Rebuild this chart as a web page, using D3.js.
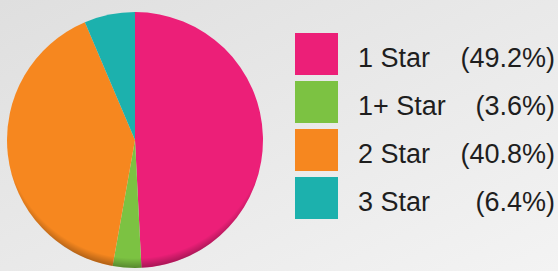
<!DOCTYPE html>
<html>
<head>
<meta charset="utf-8">
<script src="https://cdn.jsdelivr.net/npm/d3@7"></script>
<style>
  html, body { margin: 0; padding: 0; }
  body { width: 558px; height: 271px; overflow: hidden; }
  text { font-family: "Liberation Sans", Arial, sans-serif; }
</style>
</head>
<body>
<script>
const categories = ['1 Star', '1+ Star', '2 Star', '3 Star'];
const shares = [49.2, 3.6, 40.8, 6.4];
const colors = ['#ec1f78', '#7cc242', '#f6871f', '#1cb1ad'];

const width = 558, height = 271;
const pieCenter = { x: 135, y: 140 };
const radius = 128;

const svg = d3.select('body').append('svg')
    .attr('width', width)
    .attr('height', height);

const defs = svg.append('defs');

// background goes from darker grey top-left to lighter bottom-right
const bg = defs.append('linearGradient')
    .attr('id', 'bgGrad')
    .attr('x1', 0).attr('y1', 0).attr('x2', 1).attr('y2', 1);
bg.append('stop').attr('offset', 0).attr('stop-color', '#dfdfdf');
bg.append('stop').attr('offset', 1).attr('stop-color', '#f3f3f3');

// darker rim, stronger towards the bottom
const rim = defs.append('radialGradient')
    .attr('id', 'rimGrad')
    .attr('cx', 0.5).attr('cy', 0.45).attr('r', 0.55);
rim.append('stop').attr('offset', 0.93).attr('stop-color', '#000').attr('stop-opacity', 0);
rim.append('stop').attr('offset', 1).attr('stop-color', '#000').attr('stop-opacity', 0.3);

svg.append('rect')
    .attr('width', width)
    .attr('height', height)
    .attr('fill', 'url(#bgGrad)');

const data = categories.map((c, i) => ({ name: c, value: shares[i], color: colors[i] }));

const pie = d3.pie()
    .sort(null)
    .value(d => d.value);

const arc = d3.arc()
    .innerRadius(0)
    .outerRadius(radius);

const pieG = svg.append('g')
    .attr('transform', 'translate(' + pieCenter.x + ',' + pieCenter.y + ')');

pieG.selectAll('path.slice')
    .data(pie(data))
    .join('path')
    .attr('class', 'slice')
    .attr('d', arc)
    .attr('fill', d => d.data.color);

pieG.append('circle')
    .attr('r', radius)
    .attr('fill', 'url(#rimGrad)');

// legend
const legendX = 295, legendY = 33, rowStep = 48, box = 42;
const yScale = d3.scaleBand()
    .domain(categories)
    .range([legendY, legendY + rowStep * categories.length]);

const rows = svg.append('g').selectAll('g.row')
    .data(data)
    .join('g')
    .attr('class', 'row')
    .attr('transform', d => 'translate(0,' + yScale(d.name) + ')');

rows.append('rect')
    .attr('x', legendX)
    .attr('width', box + 1)
    .attr('height', box)
    .attr('fill', d => d.color);

rows.append('text')
    .attr('x', 358)
    .attr('y', 34)
    .attr('font-size', 27)
    .attr('fill', '#1e1e1e')
    .text(d => d.name);

rows.append('text')
    .attr('x', 555)
    .attr('y', 34)
    .attr('text-anchor', 'end')
    .attr('font-size', 27)
    .attr('fill', '#1e1e1e')
    .text(d => '(' + d.value.toFixed(1) + '%)');
</script>
</body>
</html>
